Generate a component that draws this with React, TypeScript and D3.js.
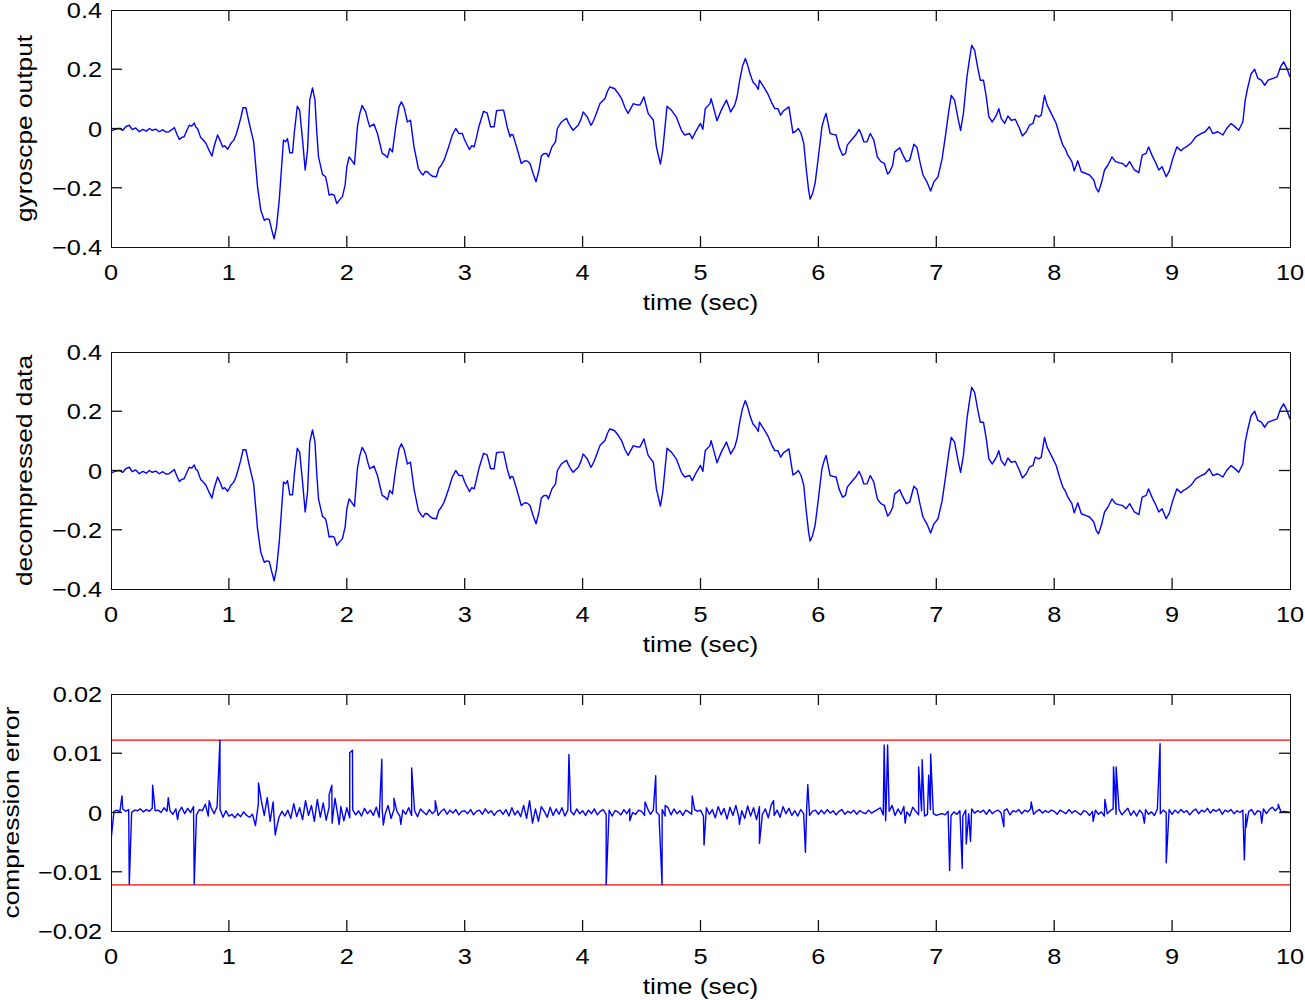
import React from "react";
import * as d3 from "d3";

// ---------- DATA ----------
// gyroscope output, traced [time (s), value]
const gyroPoints: [number, number][] = [
  [0, -0.008], [0.035, -0.003], [0.07, 0], [0.1, -0.006], [0.125, 0.006], [0.155, 0.011], [0.18, -0.004], [0.21, 0.002],
  [0.24, -0.011], [0.27, -0.003], [0.3, -0.009], [0.325, 0.0], [0.35, -0.006], [0.38, -0.002], [0.41, -0.011],
  [0.44, -0.004], [0.465, -0.012], [0.49, -0.011], [0.515, -0.004], [0.537, 0.003], [0.56, -0.02], [0.58, -0.037],
  [0.6, -0.03], [0.62, -0.028], [0.645, -0.005], [0.664, 0.011], [0.685, 0.008], [0.706, 0.019], [0.72, 0.004],
  [0.734, 0], [0.76, -0.03], [0.78, -0.038], [0.805, -0.05], [0.83, -0.072], [0.856, -0.093], [0.875, -0.06],
  [0.904, -0.022], [0.925, -0.04], [0.946, -0.062], [0.965, -0.058], [0.99, -0.07], [1.017, -0.05], [1.04, -0.04],
  [1.06, -0.022], [1.08, 0.005], [1.1, 0.034], [1.12, 0.07], [1.144, 0.07], [1.17, 0.022], [1.21, -0.045],
  [1.243, -0.197], [1.27, -0.275], [1.3, -0.31], [1.32, -0.305], [1.342, -0.307], [1.364, -0.343], [1.384, -0.372],
  [1.404, -0.332], [1.427, -0.242], [1.445, -0.14], [1.463, -0.039], [1.48, -0.045], [1.497, -0.034], [1.517, -0.082],
  [1.54, -0.082], [1.554, -0.017], [1.58, 0.075], [1.6, 0.062], [1.625, -0.04], [1.647, -0.14], [1.667, -0.073],
  [1.686, 0.096], [1.709, 0.137], [1.73, 0.096], [1.745, -0.01], [1.76, -0.096], [1.794, -0.155], [1.82, -0.163],
  [1.835, -0.19], [1.85, -0.225], [1.87, -0.222], [1.893, -0.225], [1.915, -0.253], [1.94, -0.24], [1.963, -0.23],
  [1.986, -0.19], [2.0, -0.13], [2.02, -0.096], [2.04, -0.107], [2.065, -0.121], [2.09, 0.006], [2.11, 0.05],
  [2.13, 0.078], [2.16, 0.056], [2.18, 0.025], [2.195, 0.006], [2.23, 0.015], [2.26, -0.017], [2.3, -0.084],
  [2.325, -0.09], [2.345, -0.098], [2.364, -0.067], [2.387, -0.079], [2.415, 0.006], [2.443, 0.073], [2.463, 0.09],
  [2.486, 0.071], [2.514, 0.022], [2.54, 0.028], [2.57, -0.062], [2.607, -0.135], [2.63, -0.15], [2.647, -0.157],
  [2.665, -0.145], [2.684, -0.146], [2.705, -0.155], [2.726, -0.161], [2.76, -0.163], [2.78, -0.135], [2.8, -0.125],
  [2.825, -0.107], [2.86, -0.067], [2.895, -0.022], [2.924, 0], [2.952, -0.017], [2.98, -0.017], [3.0, -0.039],
  [3.04, -0.071], [3.06, -0.058], [3.08, -0.062], [3.1, -0.03], [3.12, 0.006], [3.16, 0.058], [3.19, 0.053],
  [3.22, 0.006], [3.25, 0.006], [3.27, 0.06], [3.3, 0.062], [3.33, 0.062], [3.36, 0.006], [3.385, -0.028],
  [3.395, -0.02], [3.41, -0.022], [3.44, -0.062], [3.48, -0.118], [3.51, -0.109], [3.53, -0.11], [3.554, -0.118],
  [3.58, -0.152], [3.605, -0.18], [3.63, -0.14], [3.65, -0.093], [3.67, -0.085], [3.695, -0.084], [3.71, -0.096],
  [3.74, -0.062], [3.77, -0.045], [3.786, 0], [3.82, 0.022], [3.84, 0.028], [3.865, 0.034], [3.88, 0.019],
  [3.9, 0.005], [3.92, -0.006], [3.945, 0.004], [3.963, 0.011], [3.985, 0.03], [4.005, 0.056], [4.04, 0.039],
  [4.07, 0.011], [4.085, 0.02], [4.1, 0.034], [4.125, 0.06], [4.147, 0.084], [4.19, 0.101], [4.21, 0.125],
  [4.23, 0.14], [4.27, 0.135], [4.3, 0.12], [4.33, 0.101], [4.36, 0.07], [4.386, 0.051], [4.43, 0.084],
  [4.46, 0.08], [4.485, 0.079], [4.5, 0.09], [4.52, 0.107], [4.556, 0.051], [4.6, 0.028], [4.626, -0.062],
  [4.66, -0.12], [4.68, -0.073], [4.716, 0.075], [4.753, 0.062], [4.795, 0.039], [4.838, -0.006], [4.866, -0.022],
  [4.908, -0.017], [4.93, -0.034], [4.965, -0.006], [5.0, 0.017], [5.02, -0.003], [5.04, 0.067], [5.08, 0.084],
  [5.09, 0.101], [5.12, 0.056], [5.14, 0.026], [5.176, 0.062], [5.22, 0.096], [5.256, 0.056], [5.29, 0.079],
  [5.31, 0.107], [5.33, 0.157], [5.355, 0.208], [5.38, 0.236], [5.4, 0.214], [5.42, 0.185], [5.445, 0.157],
  [5.47, 0.146], [5.49, 0.132], [5.5, 0.163], [5.54, 0.138], [5.57, 0.118], [5.6, 0.09], [5.63, 0.067],
  [5.656, 0.067], [5.68, 0.045], [5.705, 0.06], [5.73, 0.067], [5.75, 0.073], [5.784, -0.015], [5.805, -0.01],
  [5.83, 0], [5.853, -0.017], [5.876, -0.05], [5.895, -0.13], [5.917, -0.208], [5.93, -0.238], [5.95, -0.22],
  [5.972, -0.185], [6.0, -0.096], [6.03, 0.006], [6.05, 0.035], [6.065, 0.051], [6.1, -0.017], [6.125, -0.02],
  [6.15, -0.022], [6.175, -0.062], [6.205, -0.09], [6.23, -0.084], [6.245, -0.056], [6.28, -0.039], [6.316, -0.022],
  [6.345, -0.003], [6.365, -0.02], [6.385, -0.045], [6.413, -0.045], [6.44, -0.017], [6.47, -0.039], [6.5, -0.096],
  [6.53, -0.112], [6.56, -0.118], [6.587, -0.154], [6.605, -0.146], [6.63, -0.124], [6.647, -0.079], [6.69, -0.065],
  [6.71, -0.084], [6.746, -0.112], [6.774, -0.107], [6.81, -0.053], [6.836, -0.064], [6.864, -0.118], [6.887, -0.157],
  [6.92, -0.18], [6.952, -0.211], [6.98, -0.18], [7.014, -0.163], [7.05, -0.101], [7.08, -0.017], [7.107, 0.062],
  [7.127, 0.112], [7.155, 0.096], [7.184, 0.034], [7.206, -0.006], [7.23, 0.051], [7.26, 0.174], [7.28, 0.23],
  [7.3, 0.281], [7.325, 0.264], [7.353, 0.202], [7.373, 0.163], [7.4, 0.163], [7.424, 0.107], [7.446, 0.039],
  [7.475, 0.022], [7.51, 0.045], [7.53, 0.067], [7.55, 0.034], [7.58, 0.017], [7.607, 0.042], [7.636, 0.028],
  [7.67, 0.031], [7.706, 0], [7.73, -0.025], [7.763, -0.011], [7.79, 0.011], [7.82, 0.017], [7.84, 0.045],
  [7.87, 0.039], [7.89, 0.045], [7.918, 0.112], [7.94, 0.079], [7.975, 0.051], [8.017, 0.017], [8.045, -0.022],
  [8.073, -0.056], [8.095, -0.07], [8.116, -0.09], [8.15, -0.112], [8.17, -0.143], [8.2, -0.109], [8.23, -0.146],
  [8.27, -0.152], [8.3, -0.157], [8.336, -0.174], [8.356, -0.202], [8.376, -0.214], [8.4, -0.185], [8.427, -0.14],
  [8.455, -0.124], [8.49, -0.096], [8.52, -0.112], [8.554, -0.116], [8.58, -0.118], [8.61, -0.129], [8.64, -0.112],
  [8.68, -0.14], [8.718, -0.149], [8.746, -0.09], [8.78, -0.084], [8.8, -0.062], [8.836, -0.096], [8.864, -0.118],
  [8.887, -0.14], [8.915, -0.129], [8.95, -0.163], [8.977, -0.143], [9.006, -0.101], [9.04, -0.062], [9.076, -0.075],
  [9.1, -0.066], [9.12, -0.062], [9.16, -0.05], [9.2, -0.028], [9.246, -0.017], [9.28, -0.011], [9.316, 0.006],
  [9.345, -0.017], [9.387, -0.011], [9.43, -0.022], [9.463, 0], [9.5, 0.017], [9.528, 0.008], [9.565, -0.006],
  [9.6, 0.022], [9.62, 0.096], [9.64, 0.135], [9.67, 0.185], [9.7, 0.2], [9.728, 0.169], [9.757, 0.163],
  [9.785, 0.146], [9.814, 0.163], [9.856, 0.169], [9.89, 0.174], [9.92, 0.208], [9.946, 0.225], [9.975, 0.202],
  [10.0, 0.174],
];

// decompressed data: visually identical to the gyroscope trace
const decompressedPoints: [number, number][] = gyroPoints;

// compression error: background noise sampled evenly over 0..10 s (units of 1e-3)
const errorNoiseMilli: number[] = [
  // 0 s
  -4.8, 0.2, 0.4, 0.1, 0.6, 0.2, 0.5, 0.0, 0.4, 0.3,
  0.6, 0.1, 0.5, 0.2, 0.7, 0.3, 0.4, 0.0, 0.8, 0.2,
  0.3, -0.3, 0.6, 0.1, 0.9, -0.2, 0.7, 0.0, 1.0, -0.4,
  0.5, 0.3, 1.4, -0.6, 0.8, -0.2, 1.0, 0.5, -0.8, 0.3,
  // 1 s
  -0.6, -0.3, -0.9, -0.2, -0.7, 0.1, -0.5, -0.8, -0.3, -2.2,
  1.5, 2.0, -0.5, 2.5, -1.5, 1.8, -3.0, -0.8, 0.2, -0.6,
  0.4, -1.0, 1.5, -0.7, 0.8, -1.2, 2.0, -0.5, 1.2, -1.5,
  2.2, -0.8, 1.6, -1.3, 0.9, -1.8, 2.4, -0.6, 1.0, -1.4,
  // 2 s
  0.8, -0.9, 0.5, -0.4, 0.3, -0.6, 0.7, -0.2, 0.4, -0.5,
  0.9, -0.8, 0.6, -0.3, 1.2, -1.0, 0.5, 0.2, -0.6, 0.4,
  -0.3, 0.8, -0.5, 0.3, -0.7, 0.6, 0.1, -0.4, 0.5, -0.2,
  0.3, -0.5, 0.2, 0.6, -0.3, 0.4, -0.1, 0.5, -0.4, 0.2,
  // 3 s
  0.3, -0.2, 0.5, -0.4, 0.2, 0.4, -0.3, 0.6, -0.1, 0.3,
  -0.5, 0.2, 0.4, -0.3, 0.5, -0.6, 0.8, -0.4, 0.3, -0.7,
  1.2, -1.0, 2.0, -1.8, 0.6, -1.5, 1.0, 0.2, -0.8, 0.9,
  -0.5, 0.6, -0.3, 0.8, -0.6, 0.4, 0.2, -0.4, 0.6, -0.2,
  // 4 s
  0.3, -0.5, 0.4, -0.2, 0.6, -0.4, 0.2, 0.5, -0.3, 0.4,
  -0.6, 0.3, 0.1, -0.4, 0.5, -0.2, 0.6, 0.0, -0.3, 0.4,
  0.2, -0.5, 0.7, -0.3, 0.4, 0.1, -0.4, 0.5, -0.6, 0.8,
  -0.4, 0.6, -0.2, 0.3, -0.5, 0.4, 0.1, -0.3, 0.5, 0.2,
  // 5 s
  0.4, -0.6, 0.8, -0.3, 0.5, -0.9, 1.0, -0.4, 0.7, -1.1,
  0.9, -0.5, 1.2, -0.8, 0.3, -1.0, 1.1, -0.6, 0.8, -1.2,
  1.0, -0.3, 0.6, -0.9, 1.3, -0.5, 0.4, -0.8, 1.0, -0.2,
  0.7, -0.5, 0.3, -0.6, 0.5, -0.2, 0.4, -0.5, 0.2, 0.4,
  // 6 s
  -0.3, 0.4, -0.2, 0.5, -0.1, 0.3, -0.4, 0.2, 0.5, -0.3,
  0.2, -0.1, 0.4, -0.3, 0.3, 0.0, -0.2, 0.4, -0.1, 0.2,
  0.5, 0.8, -0.4, 1.0, 0.2, 1.2, -0.5, 0.6, -0.3, 1.0,
  0.1, -0.6, 0.9, 0.2, -0.4, 0.3, -0.6, -0.3, 0.5, -0.2,
  // 7 s
  -0.5, -0.3, -0.2, -0.4, 0.2, -0.5, 0.1, -0.3, 0.3, -0.6,
  0.4, -0.2, 0.6, -0.1, 0.3, 0.0, 0.4, -0.3, 0.5, -0.2,
  0.2, 0.4, -0.1, 0.3, 0.6, -0.4, 0.3, 0.1, 0.5, -0.2,
  0.4, 0.1, 0.6, -0.3, 0.2, 0.5, -0.1, 0.3, 0.0, 0.4,
  // 8 s
  0.2, -0.3, 0.4, 0.1, -0.2, 0.5, -0.1, 0.3, 0.0, -0.4,
  0.3, 0.1, -0.5, 0.2, 0.4, -0.3, 0.1, -0.6, -0.2, 0.3,
  0.6, -0.3, 0.5, -0.4, 0.2, 0.7, -0.5, 0.3, -0.6, 0.4,
  -0.2, 0.5, -0.3, 0.1, -0.5, 0.6, -0.2, 0.4, 0.0, 0.5,
  // 9 s
  -0.3, 0.4, -0.1, 0.5, 0.0, 0.3, -0.4, 0.2, 0.6, -0.2,
  0.4, 0.1, 0.7, -0.1, 0.5, 0.2, 0.6, -0.3, 0.4, 0.1,
  0.5, -0.2, 0.3, 0.0, 0.4, -0.3, 0.2, 0.5, -0.4, 0.3,
  0.1, 0.6, -0.2, 0.5, 0.9, 0.3, 0.8, 0.0, 0.2, 0.1,
  0.0,
];

// compression error: isolated spikes [time (s), value in 1e-3]
const errorSpikesMilli: [number, number][] = [
  [0.093, 2.8], [0.155, -12.1], [0.353, 4.6], [0.486, 2.5], [0.565, -1.2], [0.706, -12.1], [0.833, 2.0],
  [0.924, 12.2], [1.251, 5.0], [1.393, -3.8], [1.85, 3.0], [1.873, 4.6], [1.935, -2.0], [2.025, 10.1],
  [2.048, 10.5], [2.297, 9.0], [2.31, -2.1], [2.4, 2.4], [2.458, -2.0], [2.55, 7.5], [2.75, 2.0],
  [3.884, 9.8], [4.2, -12.2], [4.4, -1.4], [4.53, 1.8], [4.62, 6.2], [4.65, -1.4], [4.674, -12.2],
  [4.7, 1.2], [4.93, 2.8], [5.03, -5.5], [5.33, -2.0], [5.5, -5.2], [5.62, 2.0], [5.89, -6.7], [5.91, 4.7],
  [6.558, 11.4], [6.57, -1.4], [6.587, 11.4], [6.736, -1.8], [6.85, 7.7], [6.88, 8.9], [6.935, 6.3],
  [6.952, 9.9], [7.113, -9.8], [7.22, -9.4], [7.254, -5.3], [7.29, -4.9], [7.573, -2.4], [7.805, 1.8],
  [8.33, -1.5], [8.43, 2.2], [8.503, 7.7], [8.525, 7.7], [8.765, -1.8], [8.898, 11.6], [8.95, -8.5],
  [9.613, -8.0], [9.627, -2.5], [9.76, -1.8], [9.9, 1.4],
];

const errorBound = 0.0122;

const xTicks = [0, 1, 2, 3, 4, 5, 6, 7, 8, 9, 10];
const signalTicks = [-0.4, -0.2, 0, 0.2, 0.4];
const signalTickLabels = ["\u22120.4", "\u22120.2", "0", "0.2", "0.4"];
const errorTicks = [-0.02, -0.01, 0, 0.01, 0.02];
const errorTickLabels = ["\u22120.02", "\u22120.01", "0", "0.01", "0.02"];
const yLabels = ["gyroscpe output", "decompressed data", "compression error"];
const xLabel = "time (sec)";

// ---------- LAYOUT ----------
const W = 1305;
const H = 1000;
const LEFT = 111;
const RIGHT = 1290;
const PANEL_H = 237;
const TOPS = [10, 352, 694];
const FONT = "'Liberation Sans', Arial, Helvetica, sans-serif";
const TICK_FS = 22;
const LABEL_FS = 22.5;
const TICK_STRETCH = 1.15;
const LABEL_STRETCH = 1.17;
const TICK = 11;

const errorSeries: [number, number][] = (() => {
  const n = errorNoiseMilli.length;
  const pts: [number, number][] = errorNoiseMilli.map((v, i) => [(i * 10) / (n - 1), v / 1000]);
  errorSpikesMilli.forEach(([t, v]) => pts.push([t, v / 1000]));
  pts.sort((a, b) => a[0] - b[0]);
  return pts;
})();

function Label({
  x,
  y,
  anchor,
  rotate = 0,
  size,
  stretch,
  children,
}: {
  x: number;
  y: number;
  anchor: "start" | "middle" | "end";
  rotate?: number;
  size: number;
  stretch: number;
  children: React.ReactNode;
}) {
  return (
    <text
      transform={`translate(${x},${y}) rotate(${rotate}) scale(${stretch},1)`}
      textAnchor={anchor}
      fontSize={size}
      fontFamily={FONT}
      fill="#000"
    >
      {children}
    </text>
  );
}

type PanelProps = {
  top: number;
  domain: [number, number];
  ticks: number[];
  tickLabels: string[];
  yLabel: string;
  yLabelX: number;
  data: [number, number][];
  bounds?: number;
};

function Panel({ top, domain, ticks, tickLabels, yLabel, yLabelX, data, bounds }: PanelProps) {
  const x = d3.scaleLinear().domain([0, 10]).range([LEFT, RIGHT]);
  const y = d3.scaleLinear().domain(domain).range([top + PANEL_H, top]);
  const line = d3
    .line<[number, number]>()
    .x((d) => x(d[0]))
    .y((d) => y(d[1]));
  const bottom = top + PANEL_H;
  const clipId = `clip-${top}`;
  return (
    <g>
      <defs>
        <clipPath id={clipId}>
          <rect x={LEFT} y={top} width={RIGHT - LEFT} height={PANEL_H} />
        </clipPath>
      </defs>
      <g clipPath={`url(#${clipId})`}>
        {bounds !== undefined && (
          <g>
            <line x1={LEFT} x2={RIGHT} y1={y(bounds)} y2={y(bounds)} stroke="#ff0000" strokeWidth={1.3} />
            <line x1={LEFT} x2={RIGHT} y1={y(-bounds)} y2={y(-bounds)} stroke="#ff0000" strokeWidth={1.3} />
          </g>
        )}
        <path d={line(data) || ""} fill="none" stroke="#0000ff" strokeWidth={1.4} strokeLinejoin="round" />
      </g>
      <rect
        x={LEFT + 0.5}
        y={top + 0.5}
        width={RIGHT - LEFT}
        height={PANEL_H}
        fill="none"
        stroke="#111"
        strokeWidth={1.3}
        shapeRendering="crispEdges"
      />
      {xTicks.map((t) => (
        <g key={`xt${t}`}>
          {t > 0 && t < 10 && (
            <>
              <line x1={x(t)} x2={x(t)} y1={bottom} y2={bottom - TICK} stroke="#111" strokeWidth={1.3} />
              <line x1={x(t)} x2={x(t)} y1={top} y2={top + TICK} stroke="#111" strokeWidth={1.3} />
            </>
          )}
          <Label x={x(t)} y={bottom + 33} anchor="middle" size={TICK_FS} stretch={TICK_STRETCH}>
            {t}
          </Label>
        </g>
      ))}
      {ticks.map((v, i) => (
        <g key={`yt${i}`}>
          {i > 0 && i < ticks.length - 1 && (
            <>
              <line x1={LEFT} x2={LEFT + TICK} y1={y(v)} y2={y(v)} stroke="#111" strokeWidth={1.3} />
              <line x1={RIGHT} x2={RIGHT - TICK} y1={y(v)} y2={y(v)} stroke="#111" strokeWidth={1.3} />
            </>
          )}
          <Label x={LEFT - 9} y={y(v) + 8} anchor="end" size={TICK_FS} stretch={TICK_STRETCH}>
            {tickLabels[i]}
          </Label>
        </g>
      ))}
      <Label x={(LEFT + RIGHT) / 2} y={bottom + 63} anchor="middle" size={LABEL_FS} stretch={LABEL_STRETCH}>
        {xLabel}
      </Label>
      <Label
        x={yLabelX}
        y={top + PANEL_H / 2}
        anchor="middle"
        rotate={-90}
        size={LABEL_FS}
        stretch={LABEL_STRETCH}
      >
        {yLabel}
      </Label>
    </g>
  );
}

export default function App() {
  return (
    <svg
      width={W}
      height={H}
      viewBox={`0 0 ${W} ${H}`}
      style={{ position: "absolute", left: 0, top: 0, background: "#fff" }}
    >
      <rect x={0} y={0} width={W} height={H} fill="#fff" />
      <Panel
        top={TOPS[0]}
        domain={[-0.4, 0.4]}
        ticks={signalTicks}
        tickLabels={signalTickLabels}
        yLabel={yLabels[0]}
        yLabelX={32}
        data={gyroPoints}
      />
      <Panel
        top={TOPS[1]}
        domain={[-0.4, 0.4]}
        ticks={signalTicks}
        tickLabels={signalTickLabels}
        yLabel={yLabels[1]}
        yLabelX={32}
        data={decompressedPoints}
      />
      <Panel
        top={TOPS[2]}
        domain={[-0.02, 0.02]}
        ticks={errorTicks}
        tickLabels={errorTickLabels}
        yLabel={yLabels[2]}
        yLabelX={19}
        data={errorSeries}
        bounds={errorBound}
      />
    </svg>
  );
}
